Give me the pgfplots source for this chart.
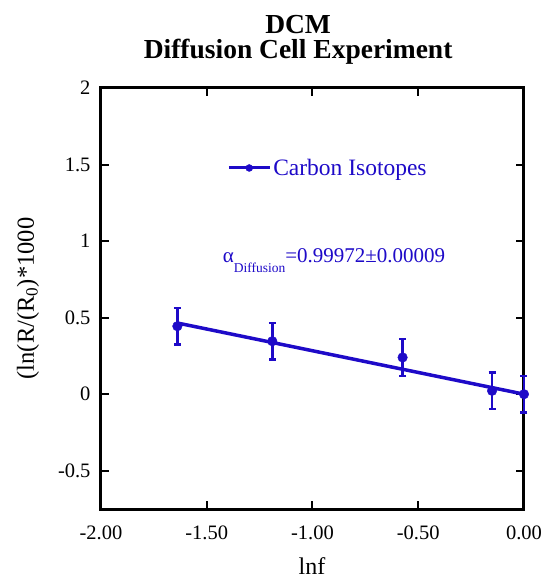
\documentclass[border=0pt]{standalone}
\usepackage{pgfplots}
\pgfplotsset{compat=1.18}
\usepackage{fontspec}
\setmainfont{Liberation Serif}
\definecolor{mycol}{RGB}{30,10,200}
\begin{document}
\begin{tikzpicture}
\begin{axis}[
  at={(0,0)}, anchor=south west,
  scale only axis, width=423pt, height=421pt,
  xmin=-2, xmax=0, ymin=-0.75, ymax=2,
  xtick={-2,-1.5,-1,-0.5,0},
  xticklabels={-2.00,-1.50,-1.00,-0.50,0.00},
  ytick={-0.5,0,0.5,1,1.5,2},
  yticklabels={-0.5,0,0.5,1,1.5,2},
  tick align=inside, major tick length=8pt,
  axis line style={line width=3pt},
  tick style={line width=2pt, black},
  ticklabel style={font=\fontsize{20.5}{20.5}\selectfont},
  xticklabel style={yshift=-13pt},
  yticklabel style={xshift=-7pt},
  ylabel={(ln(R/(R\textsubscript{0})*1000},
  ylabel style={font=\fontsize{24.5}{24.5}\selectfont, at={(axis description cs:-0.1726,0.5)}, anchor=center},
  clip=false,
  legend style={draw=none, fill=none, at={(rel axis cs:0.298,0.81)}, anchor=west, inner sep=0pt,
    font=\fontsize{23.5}{23.5}\selectfont, text=mycol},
  legend image code/.code={\draw[line width=3pt] (0pt,0pt) -- (41pt,0pt); \fill (20.5pt,0pt) circle (3.5pt);},
]
\addplot[only marks, mark=*, mark size=4.8pt, color=mycol,
  error bars/.cd, y dir=both, y explicit,
  error bar style={line width=2.5pt, color=mycol},
  error mark options={rotate=90, mark size=3.5pt, line width=2.5pt, color=mycol}]
  table[x=x, y=y, y error=e] {
x y e
-1.639 0.444 0.12
-1.190 0.346 0.12
-0.574 0.240 0.12
-0.151 0.022 0.12
0.000 0.000 0.12
};
\addplot[color=mycol, line width=3.5pt] coordinates {(-1.639,0.465) (0,0)};
\addlegendentry{Carbon Isotopes}
\node[anchor=base west, text=mycol, inner sep=0pt, font=\fontsize{21}{21}\selectfont]
  at (axis cs:-1.425,0.862) {α\raisebox{-10pt}{\fontsize{13.5}{13.5}\selectfont Diffusion}=0.99972±0.00009};
\node[anchor=base, inner sep=0pt, font=\fontsize{24}{24}\selectfont] at (axis description cs:0.499,-0.156) {lnf};
\node[anchor=base, font=\fontsize{27.5}{27.5}\selectfont\bfseries] at (axis description cs:0.466,1.130) {DCM};
\node[anchor=base, font=\fontsize{27.5}{27.5}\selectfont\bfseries] at (axis description cs:0.466,1.0706) {Diffusion Cell Experiment};
\end{axis}
\pgfresetboundingbox
\path (-101pt,-70pt) rectangle (442pt,509pt);
\end{tikzpicture}
\end{document}
